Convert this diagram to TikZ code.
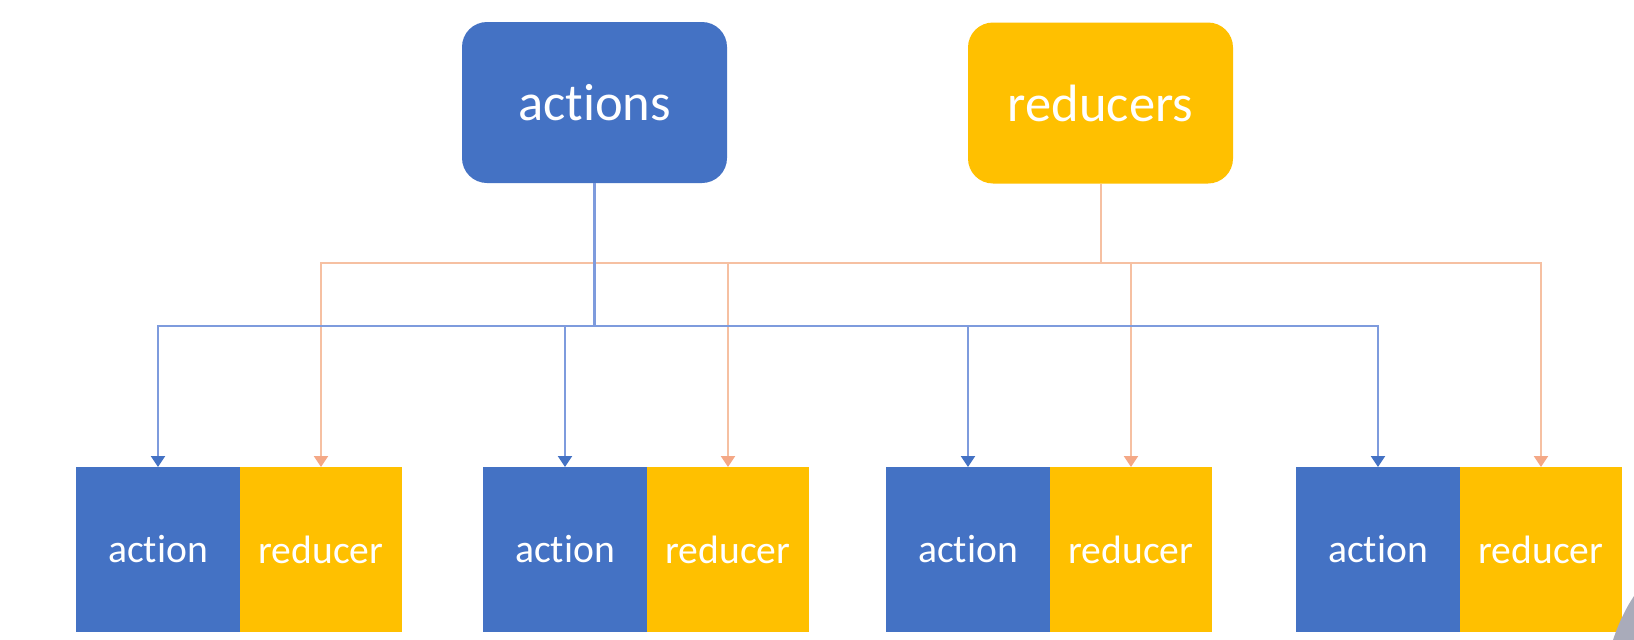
\documentclass[tikz,border=0pt]{standalone}
\usepackage{fontspec}
\setmainfont{Carlito}[Ligatures={NoCommon}]
\usetikzlibrary{arrows.meta,calc}
\definecolor{blueA}{HTML}{4472C4}
\definecolor{goldA}{HTML}{FFC000}
\definecolor{blueLine}{HTML}{7E9BDD}
\definecolor{orangeLine}{HTML}{F6C0A2}
\definecolor{orangeTip}{HTML}{F4A886}
\definecolor{cornerGrey}{HTML}{A9ABBA}
\tikzset{
  topbox/.style={rounded corners=25pt, inner sep=0pt, outer sep=0pt, text=white,
    minimum width=265pt, minimum height=161pt, font=\fontsize{52.5}{60}\selectfont},
  actbox/.style={fill=blueA, inner sep=0pt, outer sep=0pt, text=white,
    minimum width=164pt, minimum height=165pt, font=\fontsize{39.6}{46}\selectfont},
  redbox/.style={fill=goldA, inner sep=0pt, outer sep=0pt, text=white,
    minimum width=162pt, minimum height=165pt, font=\fontsize{39.6}{46}\selectfont},
  bluewire/.style={draw=blueLine, line width=2.2pt},
  orangewire/.style={draw=orangeLine, line width=2pt},
  bluearrow/.style={bluewire, -{Triangle[width=14pt,length=11pt,color=blueA]}},
  orangearrow/.style={orangewire, -{Triangle[width=14pt,length=11pt,color=orangeTip]}}
}
\begin{document}
\begin{tikzpicture}[x=1pt,y=-1pt]
\useasboundingbox[fill=white] (0,0) rectangle (1634,640);

\node[topbox, fill=blueA] (actions) at (594.5,102.5) {actions};
\node[topbox, fill=goldA] (reducers) at (1100.5,103) {reducers};

\node[actbox, anchor=north west] (a1) at (76,467) {action};
\node[redbox, anchor=west] (r1) at (a1.east) {reducer};
\node[actbox, anchor=north west] (a2) at (483,467) {action};
\node[redbox, anchor=west] (r2) at (a2.east) {reducer};
\node[actbox, anchor=north west] (a3) at (886,467) {action};
\node[redbox, anchor=west] (r3) at (a3.east) {reducer};
\node[actbox, anchor=north west] (a4) at (1296,467) {action};
\node[redbox, anchor=west] (r4) at (a4.east) {reducer};

\coordinate (bj) at ($(actions.south)+(0,143)$);
\coordinate (oj) at ($(reducers.south)+(0,79)$);

% orange connectors
\draw[orangewire] (reducers.south) -- (oj);
\foreach \r in {r1,r2,r3,r4} {
  \draw[orangearrow] (oj) -| (\r.north);
}
% blue connectors
\draw[bluewire] (actions.south) -- (bj);
\foreach \a in {a1,a2,a3,a4} {
  \draw[bluearrow] (bj) -| (\a.north);
}

\fill[cornerGrey] (1613,640) .. controls (1619,622) and (1626,608) .. (1634,596) -- (1634,640) -- cycle;
\end{tikzpicture}
\end{document}
